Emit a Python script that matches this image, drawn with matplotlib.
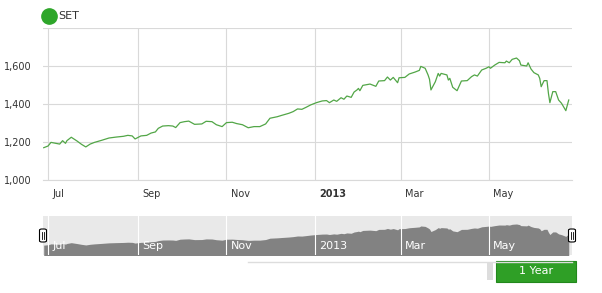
import pandas as pd
import numpy as np
import matplotlib
matplotlib.use('Agg')
import matplotlib.pyplot as plt
import matplotlib.dates as mdates
from matplotlib.patches import Rectangle, FancyBboxPatch
from matplotlib.lines import Line2D

plt.rcParams['font.family'] = ['DejaVu Sans']

# SET index
dates = ['2012-06-28', '2012-07-01', '2012-07-03', '2012-07-05', '2012-07-09', '2012-07-11',
         '2012-07-13', '2012-07-14', '2012-07-17', '2012-07-21', '2012-07-24', '2012-07-27',
         '2012-07-30', '2012-08-02', '2012-08-07', '2012-08-12', '2012-08-17', '2012-08-22',
         '2012-08-25', '2012-08-28', '2012-08-30', '2012-09-03', '2012-09-07', '2012-09-10',
         '2012-09-13', '2012-09-15', '2012-09-18', '2012-09-22', '2012-09-25', '2012-09-27',
         '2012-09-30', '2012-10-03', '2012-10-06', '2012-10-10', '2012-10-15', '2012-10-18',
         '2012-10-22', '2012-10-25', '2012-10-29', '2012-11-01', '2012-11-05', '2012-11-08',
         '2012-11-12', '2012-11-16', '2012-11-20', '2012-11-24', '2012-11-28', '2012-12-01',
         '2012-12-06', '2012-12-09', '2012-12-14', '2012-12-17', '2012-12-20', '2012-12-23',
         '2012-12-26', '2012-12-29', '2013-01-02', '2013-01-06', '2013-01-09', '2013-01-11',
         '2013-01-14', '2013-01-16', '2013-01-19', '2013-01-21', '2013-01-23', '2013-01-26',
         '2013-01-28', '2013-01-30', '2013-01-31', '2013-02-01', '2013-02-03', '2013-02-08',
         '2013-02-12', '2013-02-14', '2013-02-18', '2013-02-20', '2013-02-22', '2013-02-24',
         '2013-02-27', '2013-02-28', '2013-03-04', '2013-03-07', '2013-03-11', '2013-03-14',
         '2013-03-15', '2013-03-18', '2013-03-20', '2013-03-21', '2013-03-22', '2013-03-25',
         '2013-03-27', '2013-03-28', '2013-03-29', '2013-04-02', '2013-04-03', '2013-04-04',
         '2013-04-06', '2013-04-09', '2013-04-12', '2013-04-16', '2013-04-19', '2013-04-21',
         '2013-04-23', '2013-04-26', '2013-04-29', '2013-05-01', '2013-05-02', '2013-05-05',
         '2013-05-08', '2013-05-12', '2013-05-13', '2013-05-15', '2013-05-17', '2013-05-20',
         '2013-05-22', '2013-05-23', '2013-05-27', '2013-05-28', '2013-05-30', '2013-06-01',
         '2013-06-04', '2013-06-05', '2013-06-06', '2013-06-08', '2013-06-10', '2013-06-11',
         '2013-06-12', '2013-06-14', '2013-06-16', '2013-06-18', '2013-06-20', '2013-06-23',
         '2013-06-25']
values = [1170, 1179, 1198, 1195, 1189, 1207,
          1193, 1207, 1225, 1205, 1188, 1174,
          1189, 1198, 1209, 1221, 1226, 1230,
          1235, 1232, 1216, 1232, 1235, 1247,
          1253, 1272, 1284, 1286, 1284, 1276,
          1302, 1307, 1310, 1293, 1295, 1309,
          1307, 1291, 1281, 1302, 1304, 1297,
          1291, 1275, 1281, 1281, 1295, 1325,
          1333, 1340, 1351, 1360, 1374, 1372,
          1383, 1395, 1407, 1416, 1418, 1407,
          1421, 1414, 1433, 1425, 1442, 1435,
          1463, 1474, 1482, 1470, 1498, 1505,
          1493, 1521, 1523, 1542, 1526, 1540,
          1512, 1538, 1540, 1558, 1568, 1577,
          1598, 1588, 1553, 1530, 1474, 1517,
          1561, 1547, 1561, 1553, 1526, 1535,
          1488, 1470, 1521, 1523, 1544, 1553,
          1547, 1579, 1588, 1596, 1588, 1605,
          1619, 1617, 1626, 1617, 1635, 1642,
          1628, 1605, 1600, 1617, 1584, 1565,
          1553, 1535, 1491, 1523, 1523, 1456,
          1407, 1465, 1465, 1421, 1404, 1365,
          1421]

month_ticks = ['2012-07-01', '2012-09-01', '2012-11-01', '2013-01-01', '2013-03-01', '2013-05-01']
month_labels = ['Jul', 'Sep', 'Nov', '2013', 'Mar', 'May']
y_ticks = [1000, 1200, 1400, 1600, 1800]
y_labels = ['1,000', '1,200', '1,400', '1,600', '']

x = pd.to_datetime(dates)
xt = pd.to_datetime(month_ticks)
xlim = (pd.Timestamp('2012-06-27 12:00'), pd.Timestamp('2013-06-27 06:00'))

W, H = 602, 293
def fx(px):
    return px / W
def fy(py):
    return 1 - py / H

line_color = '#52a647'
grid_color = '#d9d9d9'
text_color = '#333333'

fig = plt.figure(figsize=(6.02, 2.93), dpi=100)
fig.patch.set_facecolor('white')

# main chart
ax = fig.add_axes([fx(43), fy(180), fx(572) - fx(43), fy(28) - fy(180)])
ax.plot(x, values, color=line_color, linewidth=0.9)
ax.set_xlim(*xlim)
ax.set_ylim(1000, 1800)
ax.set_xticks(xt)
ax.set_xticklabels([])
ax.set_yticks(y_ticks)
ax.set_yticklabels(y_labels, fontsize=7, color=text_color)
ax.tick_params(axis='both', length=0)
ax.tick_params(axis='y', pad=8)
for s in ['top', 'right', 'left']:
    ax.spines[s].set_visible(False)
ax.spines['bottom'].set_color(grid_color)
ax.grid(True, color=grid_color, linewidth=0.8)
ax.set_axisbelow(True)
for d, lab in zip(xt, month_labels):
    ax.annotate(lab, xy=(mdates.date2num(d), 0), xycoords=('data', 'axes fraction'),
                xytext=(3, -10), textcoords='offset points', fontsize=7, color=text_color,
                fontweight='bold' if lab == '2013' else 'normal', ha='left', va='center')

# legend
fig.add_artist(Line2D([fx(49)], [fy(16)], marker='o', markersize=11, color='#2ea62a',
                      transform=fig.transFigure))
fig.text(fx(58), fy(16), 'SET', fontsize=8, color=text_color, va='center', ha='left')

# navigator
nav = fig.add_axes([fx(43), fy(255), fx(572) - fx(43), fy(216) - fy(255)])
nav.set_facecolor('#e9e9e9')
nav.fill_between(x, values, 900, color='#828282', linewidth=0)
nav.set_xlim(*xlim)
nav.set_ylim(950, 1820)
nav.set_xticks(xt)
nav.set_xticklabels([])
nav.set_yticks([])
nav.tick_params(length=0)
for s in nav.spines.values():
    s.set_visible(False)
nav.grid(True, axis='x', color='white', linewidth=0.8)
for d, lab in zip(xt, month_labels):
    nav.annotate(lab, xy=(mdates.date2num(d), 0), xycoords=('data', 'axes fraction'),
                 xytext=(3, 6.5), textcoords='offset points', fontsize=8, color='white',
                 ha='left', va='center')

# navigator handles
for hx in [43, 572]:
    fig.add_artist(FancyBboxPatch((fx(hx - 3.5), fy(242)), fx(7), fy(229) - fy(242),
                                  boxstyle='round,pad=0,rounding_size=0.004',
                                  facecolor='white', edgecolor='black', linewidth=0.8,
                                  transform=fig.transFigure))
    for dx in [-1, 1]:
        fig.add_artist(Line2D([fx(hx + dx), fx(hx + dx)], [fy(239), fy(232)], color='black',
                              linewidth=0.6, transform=fig.transFigure))

# range selector
fig.add_artist(Line2D([fx(248), fx(572)], [fy(262), fy(262)], color='#dddddd', linewidth=1,
                      transform=fig.transFigure))
fig.add_artist(Rectangle((fx(487), fy(280)), fx(6), fy(262) - fy(280), facecolor='#dddddd',
                         edgecolor='none', transform=fig.transFigure))
fig.add_artist(Rectangle((fx(496), fy(282)), fx(80), fy(261) - fy(282), facecolor='#2f9f26',
                         edgecolor='#22881c', linewidth=0.8, transform=fig.transFigure))
fig.text(fx(536), fy(271.5), '1 Year', fontsize=8, color='white', ha='center', va='center')

fig.savefig('out.png', dpi=100, facecolor='white')
